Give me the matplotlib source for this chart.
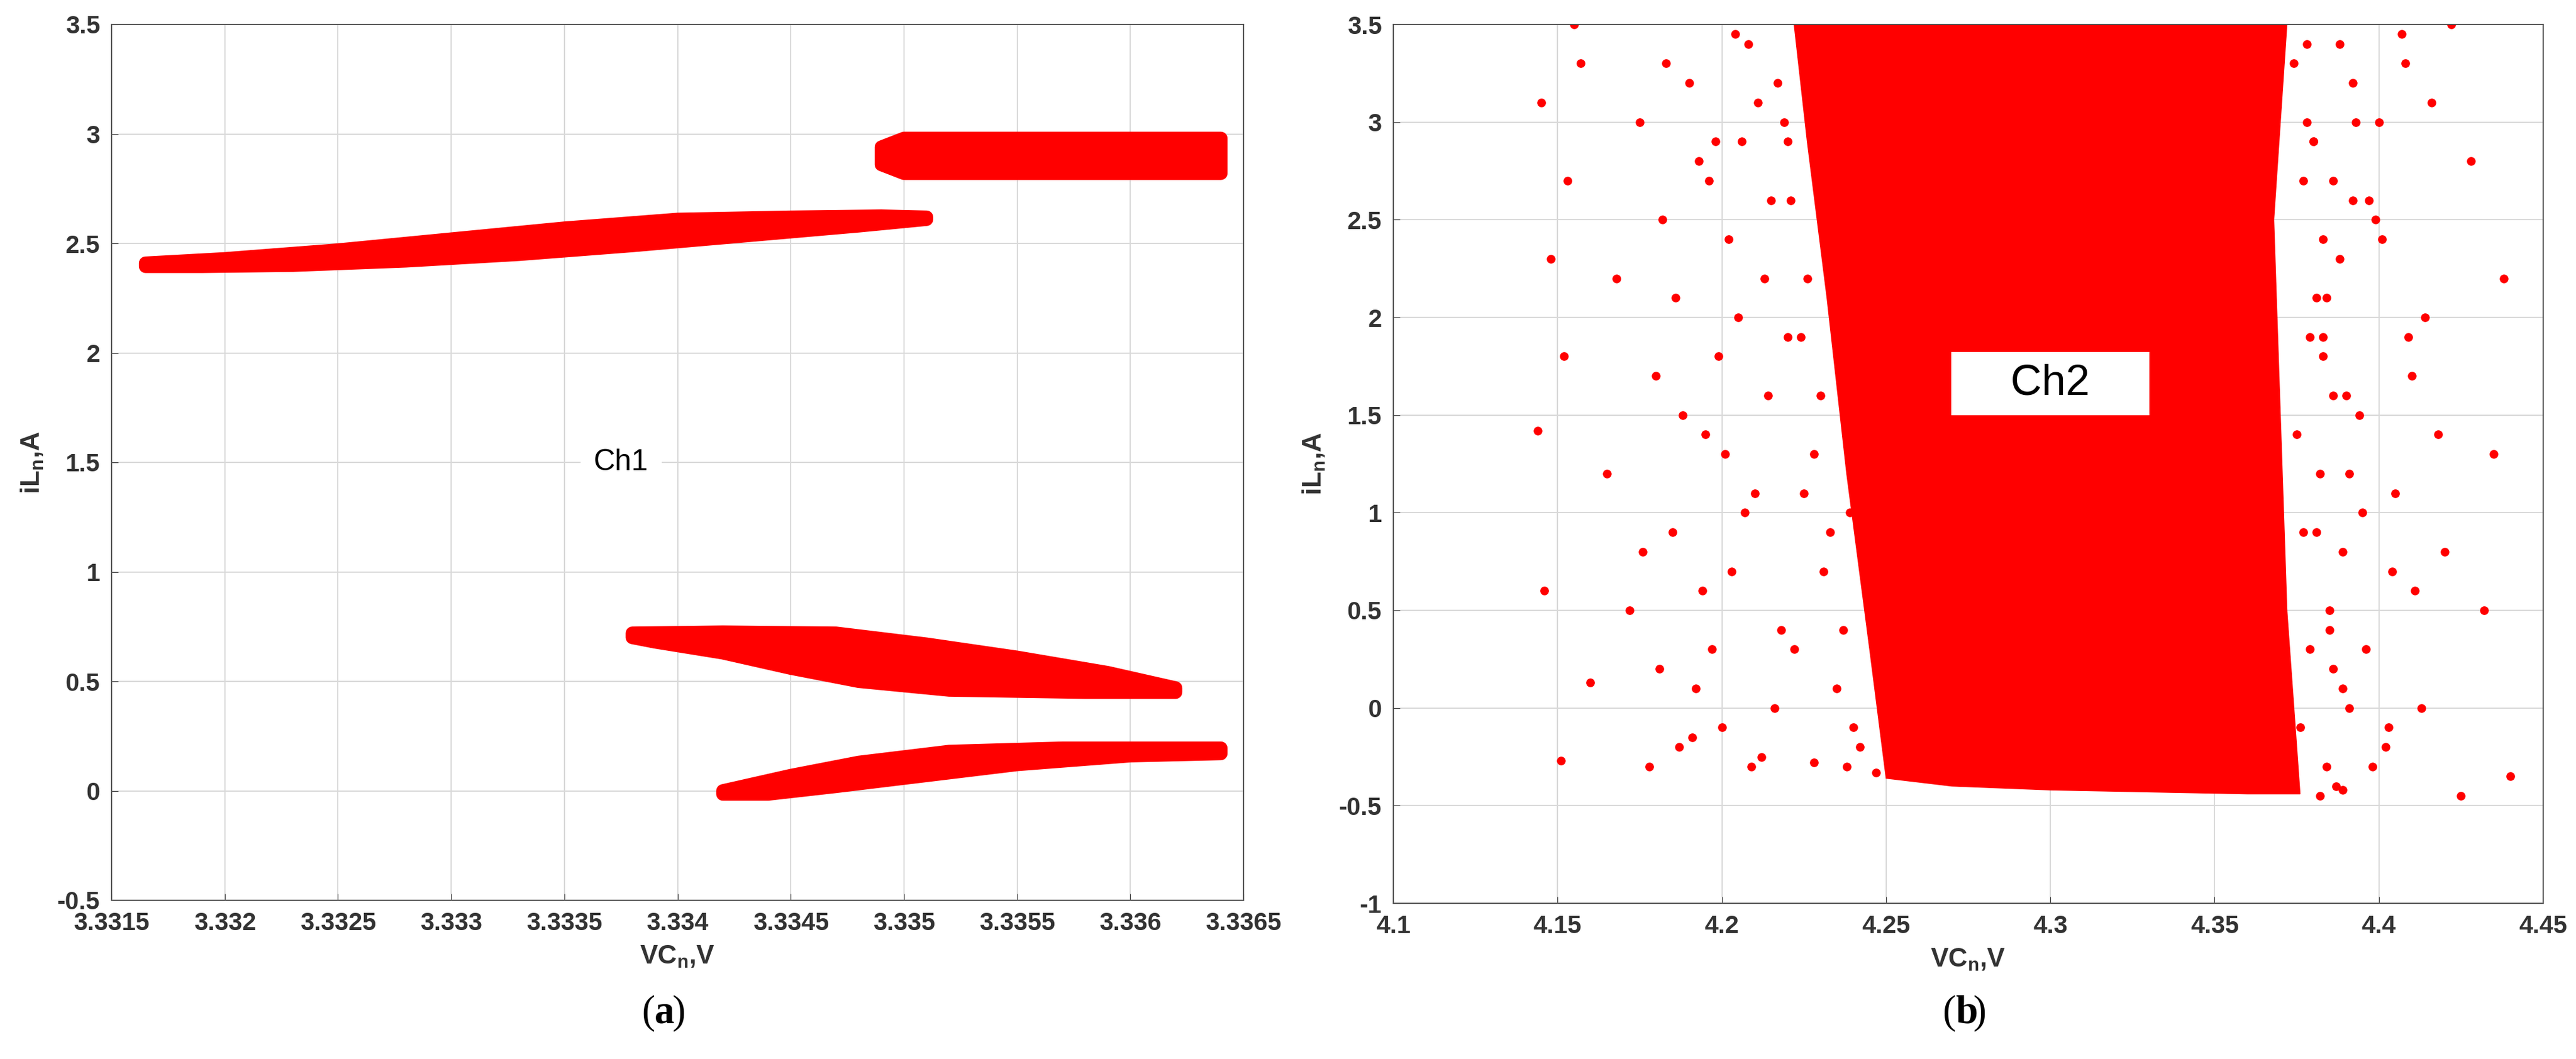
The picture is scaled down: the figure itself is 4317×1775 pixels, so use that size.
import matplotlib.pyplot as plt
from matplotlib.patches import Polygon

# ---- panel (a): outlines of the four dense clusters (VC, iL)
band_x = [3.33165, 3.3320, 3.3325, 3.3330, 3.3335, 3.3340, 3.3345, 3.3349, 3.3351,
          3.3351, 3.3348, 3.3343, 3.3338, 3.3333, 3.3328, 3.3323, 3.3319, 3.33165]
band_y = [2.41, 2.43, 2.47, 2.52, 2.57, 2.61, 2.62, 2.625, 2.62,
          2.61, 2.58, 2.535, 2.49, 2.45, 2.42, 2.40, 2.395, 2.395]
block_x = [3.3349, 3.3350, 3.3364, 3.3364, 3.3350, 3.3349]
block_y = [2.86, 2.82, 2.82, 2.98, 2.98, 2.94]
mid_x = [3.3338, 3.3342, 3.3347, 3.3351, 3.3355, 3.3359, 3.3362, 3.3362, 3.3358,
         3.3352, 3.3348, 3.3345, 3.3342, 3.3339, 3.3338]
mid_y = [0.72, 0.725, 0.72, 0.67, 0.61, 0.54, 0.47, 0.45, 0.45,
         0.46, 0.50, 0.56, 0.63, 0.68, 0.70]
low_x = [3.3342, 3.3345, 3.3348, 3.3352, 3.3357, 3.3362, 3.3364, 3.3364, 3.3360,
         3.3355, 3.3351, 3.3347, 3.3344, 3.3342]
low_y = [0.00, 0.07, 0.13, 0.18, 0.195, 0.195, 0.195, 0.17, 0.16,
         0.12, 0.07, 0.02, -0.015, -0.015]

# ---- panel (b): dense core outline plus sparse outlying points
core_x = [4.222, 4.372, 4.368, 4.370, 4.372, 4.376, 4.36, 4.33, 4.30, 4.27, 4.25,
          4.245, 4.238, 4.232, 4.226]
core_y = [3.5, 3.5, 2.5, 1.5, 0.5, -0.44, -0.44, -0.43, -0.42, -0.40, -0.36,
          0.3, 1.2, 2.1, 2.9]
sparse_x = [4.145, 4.148, 4.152, 4.153, 4.155, 4.157, 4.144, 4.146, 4.151, 4.160, 4.165,
            4.168, 4.172, 4.175, 4.178, 4.180, 4.182, 4.185, 4.187, 4.190, 4.192, 4.195,
            4.198, 4.200, 4.203, 4.205, 4.208, 4.210, 4.212, 4.215, 4.218, 4.220, 4.183,
            4.188, 4.193, 4.197, 4.202, 4.207, 4.211, 4.216, 4.199, 4.204, 4.209, 4.213,
            4.176, 4.186, 4.194, 4.201, 4.206, 4.214, 4.219, 4.191, 4.196, 4.181,
            4.378, 4.381, 4.384, 4.387, 4.390, 4.393, 4.396, 4.399, 4.402, 4.405, 4.408,
            4.411, 4.414, 4.418, 4.422, 4.425, 4.428, 4.432, 4.435, 4.438, 4.440, 4.383,
            4.386, 4.389, 4.392, 4.395, 4.398, 4.401, 4.404, 4.407, 4.410, 4.413, 4.380,
            4.385, 4.391, 4.397, 4.403, 4.409, 4.416, 4.420, 4.382, 4.388, 4.394, 4.400,
            4.217, 4.221, 4.224, 4.228, 4.231, 4.235, 4.238, 4.242, 4.220, 4.226, 4.230,
            4.233, 4.237, 4.240, 4.244, 4.222, 4.228, 4.234, 4.239, 4.243, 4.247, 4.225,
            4.374, 4.377, 4.379, 4.382, 4.385, 4.376, 4.379, 4.383, 4.386, 4.389, 4.378,
            4.381, 4.384, 4.388, 4.391, 4.375, 4.380, 4.386, 4.392, 4.377, 4.383, 4.389]
sparse_y = [3.1, 2.3, 1.8, 2.7, 3.5, 3.3, 1.42, 0.6, -0.27, 0.13, 1.2,
            2.2, 0.5, 3.0, -0.3, 1.7, 2.5, 0.9, -0.2, 3.2, 0.1, 1.4,
            2.9, -0.1, 0.7, 2.0, 3.4, 1.1, -0.25, 2.6, 0.4, 1.9, 3.3,
            1.5, 2.8, 0.3, 2.4, 1.0, 3.1, 0.0, 1.8, 3.45, -0.3, 2.2,
            0.8, 2.1, 0.6, 1.3, 2.9, 1.6, 3.0, -0.15, 2.7, 0.2,
            3.4, 0.9, 2.1, -0.4, 1.6, 3.0, 0.3, 2.5, -0.2, 1.1, 3.3,
            0.6, 2.0, 1.4, 3.5, -0.45, 2.8, 0.5, 1.3, 2.2, -0.35, 1.9,
            2.7, 0.1, 3.2, 1.0, -0.3, 2.4, 0.7, 3.45, 1.7, 0.0, 2.9,
            0.4, 1.2, 2.6, -0.1, 1.9, 3.1, 0.8, -0.45, 2.3, 1.5, 3.0,
            3.2, 2.6, 1.9, 1.3, 0.7, 0.1, -0.3, -0.2, 2.9, 2.2, 1.6,
            0.9, 0.4, -0.1, 0.6, 0.3, -0.28, 2.5, 1.0, 1.8, -0.33, 1.1,
            3.3, 2.7, 1.9, 1.2, 0.5, -0.1, 0.3, 2.4, 1.6, 0.8, 3.0,
            2.1, -0.3, 3.4, 0.0, 1.4, 2.9, 0.2, 2.6, 0.9, 1.8, -0.42]

RED = '#ff0000'
fig = plt.figure(figsize=(43.17, 17.75), dpi=100)
plt.rcParams['font.family'] = ['Liberation Sans', 'DejaVu Sans']

def style(ax):
    ax.grid(True, color='#d9d9d9', linewidth=1.5)
    ax.set_axisbelow(True)
    for s in ax.spines.values():
        s.set_color('#555555'); s.set_linewidth(1.5)
    ax.tick_params(labelsize=30, colors='#333333', length=8, direction='in', pad=14)
    for t in ax.get_xticklabels() + ax.get_yticklabels():
        t.set_fontweight('bold')

ax1 = fig.add_axes([187 / 4317, 1 - 1509 / 1775, 1897 / 4317, 1468 / 1775])
for xs, ys in [(band_x, band_y), (block_x, block_y), (mid_x, mid_y), (low_x, low_y)]:
    ax1.add_patch(Polygon(list(zip(xs, ys)), closed=True, facecolor=RED, edgecolor=RED,
                          linewidth=16, joinstyle='round'))
ax1.set_xlim(3.3315, 3.3365)
ax1.set_ylim(-0.5, 3.5)
ax1.set_xticks([3.3315 + 0.0005 * i for i in range(11)])
ax1.set_xticklabels(['3.3315', '3.332', '3.3325', '3.333', '3.3335', '3.334', '3.3345',
                     '3.335', '3.3355', '3.336', '3.3365'])
ax1.set_yticks([-0.5, 0, 0.5, 1, 1.5, 2, 2.5, 3, 3.5])
ax1.set_yticklabels(['-0.5', '0', '0.5', '1', '1.5', '2', '2.5', '3', '3.5'])
style(ax1)
ax1.text(3.33375, 1.5, 'Ch1', fontsize=36, ha='center', va='center',
         bbox=dict(facecolor='white', edgecolor='none', pad=16))
ax1.set_xlabel('VC$_\\mathregular{n}$,V', fontsize=32, fontweight='bold', color='#333333', labelpad=10)
ax1.set_ylabel('iL$_\\mathregular{n}$,A', fontsize=32, fontweight='bold', color='#333333', labelpad=14)

ax2 = fig.add_axes([2335 / 4317, 1 - 1514 / 1775, 1927 / 4317, 1473 / 1775])
ax2.add_patch(Polygon(list(zip(core_x, core_y)), closed=True, facecolor=RED, edgecolor=RED))
ax2.scatter(sparse_x, sparse_y, s=90, color=RED, clip_on=True)
ax2.set_xlim(4.1, 4.45)
ax2.set_ylim(-1, 3.5)
ax2.set_xticks([4.1, 4.15, 4.2, 4.25, 4.3, 4.35, 4.4, 4.45])
ax2.set_xticklabels(['4.1', '4.15', '4.2', '4.25', '4.3', '4.35', '4.4', '4.45'])
ax2.set_yticks([-1, -0.5, 0, 0.5, 1, 1.5, 2, 2.5, 3, 3.5])
ax2.set_yticklabels(['-1', '-0.5', '0', '0.5', '1', '1.5', '2', '2.5', '3', '3.5'])
style(ax2)
ax2.text(4.3, 1.66, '    Ch2    ', fontsize=52, ha='center', va='center',
         bbox=dict(facecolor='white', edgecolor='none', pad=14))
ax2.set_xlabel('VC$_\\mathregular{n}$,V', fontsize=32, fontweight='bold', color='#333333', labelpad=10)
ax2.set_ylabel('iL$_\\mathregular{n}$,A', fontsize=32, fontweight='bold', color='#333333', labelpad=14)

for xc, letter in [(1097, 'a'), (3277, 'b')]:
    fig.text(xc / 4317, 1 - 1698 / 1775, '(', fontsize=48, ha='right', va='center', family='Liberation Serif')
    fig.text(xc / 4317, 1 - 1698 / 1775, letter, fontsize=48, ha='left', va='center',
             family='Liberation Serif', fontweight='bold')
    fig.text((xc + 30) / 4317, 1 - 1698 / 1775, ')', fontsize=48, ha='left', va='center', family='Liberation Serif')

fig.savefig('out.png', dpi=100)
